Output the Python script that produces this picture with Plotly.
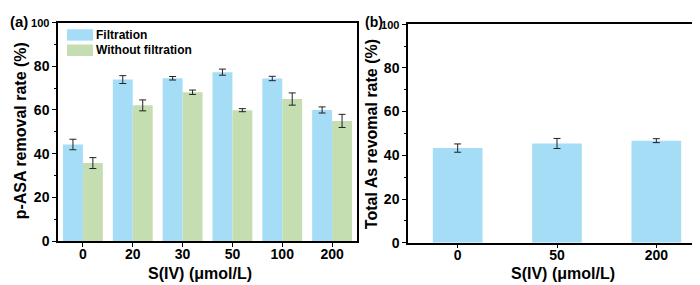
import plotly.graph_objects as go

# Panel (a)
cats_a = ["0", "20", "30", "50", "100", "200"]
filt = [44.2, 73.9, 74.5, 77.3, 74.4, 60.0]
filt_err = [2.4, 1.8, 0.8, 1.4, 1.0, 1.4]
nofilt = [35.7, 62.1, 68.1, 59.9, 65.0, 55.0]
nofilt_err = [2.5, 2.5, 1.0, 0.7, 2.8, 3.0]

# Panel (b)
cats_b = ["0", "50", "200"]
total_as = [43.3, 45.4, 46.7]
total_as_err = [1.9, 2.3, 0.9]

yticks = [0, 20, 40, 60, 80, 100]
ytick_text = ["0", "20", "40", "60", "80", "<span style='font-size:11px'>100</span>"]

BLUE = "#A6DDF6"
GREEN = "#C4DEB2"
FONT = "Liberation Sans, Arial, sans-serif"

fig = go.Figure()
err_style = dict(type="data", color="#222222", thickness=1, width=3.5)

fig.add_trace(go.Bar(x=cats_a, y=filt, name="Filtration", marker=dict(color=BLUE, line_width=0),
                     error_y=dict(array=filt_err, **err_style), xaxis="x", yaxis="y", showlegend=False))
fig.add_trace(go.Bar(x=cats_a, y=nofilt, name="Without filtration", marker=dict(color=GREEN, line_width=0),
                     error_y=dict(array=nofilt_err, **err_style), xaxis="x", yaxis="y", showlegend=False))
fig.add_trace(go.Bar(x=cats_b, y=total_as, name="Total As", marker=dict(color=BLUE, line_width=0),
                     error_y=dict(array=total_as_err, **err_style), xaxis="x2", yaxis="y2",
                     showlegend=False, width=0.5))

tickfont = dict(family=FONT, size=14, color="black", weight="bold")
axis_common = dict(showline=True, linecolor="black", linewidth=1.5, mirror=True,
                   ticks="outside", ticklen=4, tickwidth=1.2, tickcolor="black",
                   showgrid=False, zeroline=False, tickfont=tickfont)
yminor = dict(dtick=10, ticks="outside", ticklen=2, tickcolor="black", tickwidth=1)

H = 285.0
W = 700.0
fig.update_layout(
    width=700, height=285,
    margin=dict(l=0, r=0, t=0, b=0),
    paper_bgcolor="white", plot_bgcolor="white",
    barmode="group", bargap=0.2, bargroupgap=0.0,
    font=dict(family=FONT, color="black"),
    xaxis=dict(domain=[50 / W, 349 / W], anchor="y", ticklabelstandoff=-5, **axis_common),
    yaxis=dict(domain=[1 - 239 / H, 1 - 10 / H], anchor="x", range=[0, 100],
               tickvals=yticks, ticktext=ytick_text, ticklabelstandoff=0,
               minor=yminor, **axis_common),
    xaxis2=dict(domain=[400 / W, 698 / W], anchor="y2", ticklabelstandoff=-5,
                minor=dict(ticks="outside", ticklen=2, tickcolor="black", tickwidth=1),
                **axis_common),
    yaxis2=dict(domain=[1 - 240.7 / H, 1 - 11.7 / H], anchor="x2", range=[0, 100],
                tickvals=yticks, ticktext=ytick_text, ticklabelstandoff=0,
                minor=yminor, **axis_common),
)

ann = []
titlefont = dict(family=FONT, size=16, color="black")
ann.append(dict(text="<b>S(IV) (μmol/L)</b>", x=192 / W, y=1 - 273 / H, xref="paper", yref="paper",
                showarrow=False, font=titlefont, xanchor="center", yanchor="middle"))
ann.append(dict(text="<b>S(IV) (μmol/L)</b>", x=555 / W, y=1 - 273 / H, xref="paper", yref="paper",
                showarrow=False, font=titlefont, xanchor="center", yanchor="middle"))
ann.append(dict(text="<b>p-ASA removal rate (%)</b>", x=12 / W, y=1 - 124 / H, xref="paper", yref="paper",
                showarrow=False, font=titlefont, textangle=-90, xanchor="center", yanchor="middle"))
ann.append(dict(text="<b>Total As revomal rate (%)</b>", x=363 / W, y=1 - 127 / H, xref="paper", yref="paper",
                showarrow=False, font=titlefont, textangle=-90, xanchor="center", yanchor="middle"))
ann.append(dict(text="<b>(a)</b>", x=0 / W, y=1 - 9 / H, xref="paper", yref="paper",
                showarrow=False, font=dict(family=FONT, size=15, color="black"), xanchor="left", yanchor="middle"))
ann.append(dict(text="<b>(b)</b>", x=355 / W, y=1 - 9 / H, xref="paper", yref="paper",
                showarrow=False, font=dict(family=FONT, size=14, color="black"), xanchor="left", yanchor="middle"))

# custom legend
legend_items = [("Filtration", BLUE, 23), ("Without filtration", GREEN, 39)]
shapes = []
for label, col, yc in legend_items:
    shapes.append(dict(type="rect", xref="paper", yref="paper",
                       x0=59 / W, x1=85 / W, y0=1 - (yc + 6) / H, y1=1 - (yc - 6) / H,
                       fillcolor=col, line=dict(width=0)))
    ann.append(dict(text=f"<b>{label}</b>", x=86 / W, y=1 - yc / H, xref="paper", yref="paper",
                    showarrow=False, font=dict(family=FONT, size=12, color="black"),
                    xanchor="left", yanchor="middle"))

fig.update_layout(annotations=ann, shapes=shapes)
fig.write_html("out.html")
